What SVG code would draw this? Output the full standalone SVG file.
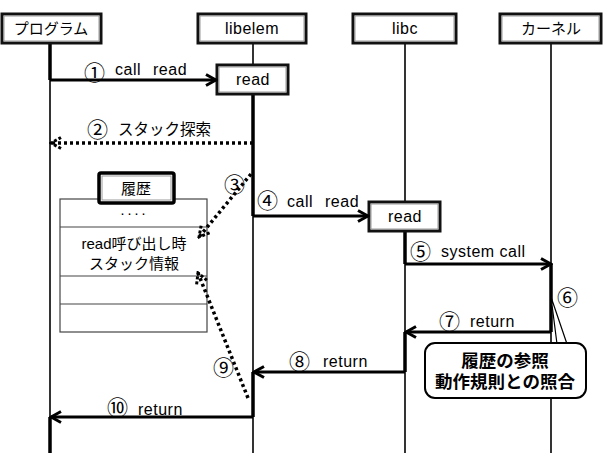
<svg xmlns="http://www.w3.org/2000/svg" width="606" height="469" viewBox="0 0 606 469">
<style>
text{font-family:"Liberation Sans","Noto Sans CJK JP",sans-serif;font-size:15px;fill:#000}
.c{text-anchor:middle}
.l{font-size:16px;letter-spacing:0.5px}
.n{font-family:"Noto Sans CJK JP",sans-serif;font-size:21px;fill:#000}
.b{font-weight:bold;font-size:17.5px}
.box{fill:#fff;stroke:#111;stroke-width:3}
.inn{fill:none;stroke:#999;stroke-width:1}
.life{stroke:#000;stroke-width:1.6;fill:none}
.act{stroke:#000;stroke-width:3.5;fill:none}
.msg{stroke:#000;stroke-width:3;fill:none}
.dot{stroke:#000;stroke-width:3.5;fill:none;stroke-dasharray:3 3}
.tbl{fill:#fff;stroke:#444;stroke-width:1.2}
</style>
<defs>
<marker id="ah" viewBox="0 0 14 14" markerWidth="14" markerHeight="14" refX="12" refY="7" orient="auto" markerUnits="userSpaceOnUse">
<path d="M2,1.5 L12,7 L2,12.5" fill="none" stroke="#000" stroke-width="3"/>
</marker>
<marker id="ahd" viewBox="0 0 14 14" markerWidth="14" markerHeight="14" refX="12" refY="7" orient="auto" markerUnits="userSpaceOnUse">
<path d="M2,1.5 L12,7 L2,12.5" fill="none" stroke="#000" stroke-width="3" stroke-dasharray="3 2"/>
</marker>
</defs>

<g id="lifelines">
<line class="life" x1="50" y1="43" x2="50" y2="453"/>
<line class="life" x1="253" y1="43" x2="253" y2="453"/>
<line class="life" x1="405" y1="43" x2="405" y2="453"/>
<line class="life" x1="551" y1="43" x2="551" y2="453"/>
<line class="act" x1="50" y1="43" x2="50" y2="80"/>
<line class="act" x1="50" y1="417" x2="50" y2="453"/>
<line class="act" x1="253" y1="94" x2="253" y2="216"/>
<line class="act" x1="253" y1="372" x2="253" y2="417"/>
<line class="act" x1="405" y1="231" x2="405" y2="264"/>
<line class="act" x1="405" y1="332" x2="405" y2="372"/>
<line class="act" x1="551" y1="264" x2="551" y2="332"/>
</g>

<g id="program">
<rect class="box" x="2" y="14" width="99" height="29"/>
<rect class="inn" x="4" y="16" width="95" height="25"/>
<text class="c" x="51" y="34">プログラム</text>
</g>
<g id="libelem">
<rect class="box" x="198" y="14" width="108" height="29"/>
<rect class="inn" x="200" y="16" width="104" height="25"/>
<text class="c l" x="252" y="34">libelem</text>
</g>
<g id="libc">
<rect class="box" x="353" y="14" width="103" height="29"/>
<rect class="inn" x="355" y="16" width="99" height="25"/>
<text class="c l" x="405" y="34">libc</text>
</g>
<g id="kernel">
<rect class="box" x="500" y="14" width="101" height="29"/>
<rect class="inn" x="502" y="16" width="97" height="25"/>
<text class="c" x="551" y="34">カーネル</text>
</g>

<g id="read1">
<rect class="box" x="217" y="65" width="71" height="29"/>
<rect class="inn" x="219" y="67" width="67" height="25"/>
<text class="c l" x="253" y="85">read</text>
</g>
<g id="read2">
<rect class="box" x="369" y="202" width="71" height="29"/>
<rect class="inn" x="371" y="204" width="67" height="25"/>
<text class="c l" x="405" y="222">read</text>
</g>

<g id="history">
<rect class="tbl" x="60" y="199" width="147" height="133"/>
<line class="tbl" x1="60" y1="227" x2="207" y2="227"/>
<line class="tbl" x1="60" y1="276" x2="207" y2="276"/>
<line class="tbl" x1="60" y1="304" x2="207" y2="304"/>
<rect x="99" y="173" width="75" height="30" rx="2" fill="#fff" stroke="#000" stroke-width="3.5"/>
<rect class="inn" x="102" y="176" width="69" height="24"/>
<text class="c" x="136" y="194">履歴</text>
<text class="c" x="134" y="218" style="letter-spacing:2px">····</text>
<text class="c" x="134" y="249">read呼び出し時</text>
<text class="c" x="134" y="269">スタック情報</text>
</g>

<g id="callout">
<polygon points="551,297 557,344 567,344" fill="#fff" stroke="#000" stroke-width="1.2"/>
<rect x="425" y="343" width="161" height="55" rx="10" fill="#fff" stroke="#000" stroke-width="2"/>
<text class="c b" x="505" y="367">履歴の参照</text>
<text class="c b" x="505" y="388">動作規則との照合</text>
</g>

<g id="connectors">
<line class="msg" x1="50" y1="80" x2="216" y2="80" marker-end="url(#ah)"/>
<line class="dot" x1="253" y1="143" x2="51" y2="143" marker-end="url(#ahd)"/>
<line class="dot" x1="251" y1="174" x2="199" y2="237" marker-end="url(#ahd)"/>
<line class="msg" x1="253" y1="216" x2="368" y2="216" marker-end="url(#ah)"/>
<line class="msg" x1="405" y1="264" x2="551" y2="264" marker-end="url(#ah)"/>
<line class="msg" x1="551" y1="332" x2="406" y2="332" marker-end="url(#ah)"/>
<line class="msg" x1="405" y1="372" x2="254" y2="372" marker-end="url(#ah)"/>
<line class="dot" x1="248" y1="398" x2="198" y2="273" marker-end="url(#ahd)"/>
<line class="msg" x1="253" y1="417" x2="51" y2="417" marker-end="url(#ah)"/>
</g>

<g id="labels">
<text class="n" x="84" y="80">①</text><text class="l" x="115" y="75">call</text><text class="l" x="153" y="75">read</text>
<text class="n" x="87" y="137">②</text><text x="118" y="135" style="font-size:15.5px">スタック探索</text>
<text class="n" x="224" y="192">③</text>
<text class="n" x="257" y="208">④</text><text class="l" x="287" y="207">call</text><text class="l" x="325" y="207">read</text>
<text class="n" x="410" y="259">⑤</text><text class="l" x="441" y="257">system call</text>
<text class="n" x="557" y="305">⑥</text>
<text class="n" x="439" y="329">⑦</text><text class="l" x="470" y="327">return</text>
<text class="n" x="289" y="369">⑧</text><text class="l" x="323" y="367">return</text>
<text class="n" x="213" y="375">⑨</text>
<text class="n" x="107" y="415">⑩</text><text class="l" x="138" y="415">return</text>
</g>
</svg>
